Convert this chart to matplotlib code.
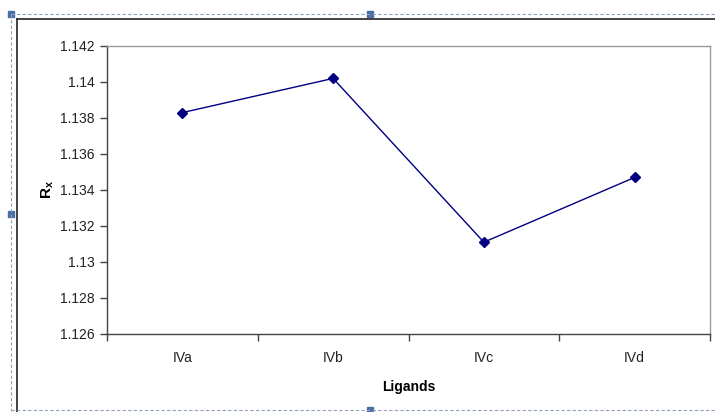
import matplotlib
matplotlib.use("Agg")
import matplotlib.pyplot as plt
from matplotlib.patches import Rectangle
from matplotlib.lines import Line2D

ligands = ["IVa", "IVb", "IVc", "IVd"]
rx = [1.1383, 1.1402, 1.1311, 1.1347]
yticks = [1.126, 1.128, 1.13, 1.132, 1.134, 1.136, 1.138, 1.14, 1.142]
ytick_labels = ["1.126", "1.128", "1.13", "1.132", "1.134", "1.136", "1.138", "1.14", "1.142"]

plt.rcParams['font.family'] = ['Liberation Sans', 'DejaVu Sans']
plt.rcParams['mathtext.fontset'] = 'custom'
plt.rcParams['mathtext.rm'] = 'Liberation Sans'
plt.rcParams['mathtext.bf'] = 'Liberation Sans:bold'

W, H = 715, 412
fig = plt.figure(figsize=(W / 100, H / 100), dpi=100)

def fx(px):
    return px / W

def fy(py):
    return 1 - py / H

ax = fig.add_axes([fx(107), fy(334), fx(710) - fx(107), fy(46) - fy(334)])

xs = list(range(len(ligands)))
ax.plot(xs, rx, color="#000080", lw=1, marker="D", ms=5, mfc="#000080", mec="#000080")

ax.set_xlim(-0.5, len(ligands) - 0.5)
ax.set_ylim(1.126, 1.142)
ax.set_yticks(yticks)
ax.set_yticklabels(ytick_labels)
ax.set_xticks(xs)
ax.set_xticklabels(ligands)
ax.set_xticks([i - 0.5 for i in range(len(ligands) + 1)], minor=True)
ax.tick_params(axis="x", which="major", length=0, pad=12, labelsize=10, labelcolor="#222222")
ax.tick_params(axis="x", which="minor", length=5, width=1, color="#444444")
ax.tick_params(axis="y", length=5, width=1, color="#444444", labelsize=10,
               labelcolor="#222222", pad=4)

ax.spines["left"].set_color("#444444")
ax.spines["bottom"].set_color("#444444")
ax.spines["top"].set_color("#999999")
ax.spines["right"].set_color("#999999")
for s in ax.spines.values():
    s.set_linewidth(1)

ax.set_xlabel("Ligands", fontsize=10, fontweight="bold", labelpad=11)
ax.set_ylabel(r"$\mathbf{R_x}$", fontsize=11, labelpad=3)

# chart frame and selection border (Word/Excel object look)
fig.add_artist(Line2D([fx(17), fx(17)], [fy(19), 0], color="#222222", lw=1.2))
fig.add_artist(Line2D([fx(17), 1], [fy(19), fy(19)], color="#222222", lw=1.2))
dash = dict(color="#8fa0c0", lw=0.8, ls=(0, (3, 2)))
fig.add_artist(Line2D([fx(11), fx(11)], [fy(14), fy(411)], **dash))
fig.add_artist(Line2D([fx(11), 1], [fy(14), fy(14)], **dash))
fig.add_artist(Line2D([fx(11), 1], [fy(410), fy(410)], **dash))
for hx, hy in [(11, 14), (370, 14), (11, 214), (370, 410)]:
    fig.add_artist(Rectangle((fx(hx - 3), fy(hy + 3)), fx(6), 6 / H,
                             color="#4a6fa5", transform=fig.transFigure))

fig.savefig("out.png", dpi=100)
